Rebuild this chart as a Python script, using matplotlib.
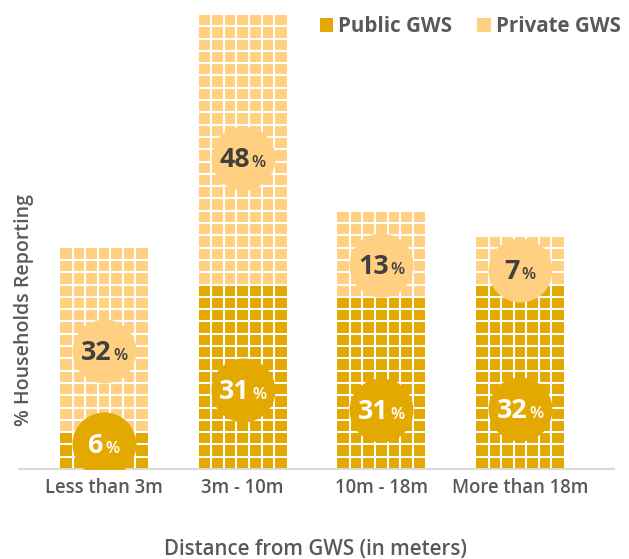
import matplotlib
matplotlib.use("Agg")
import matplotlib.pyplot as plt
from matplotlib.patches import Patch

# données
categories = ["Less than 3m", "3m - 10m", "10m - 18m", "More than 18m"]
public_height = [6.2, 32.0, 29.9, 32.0]
private_height = [32.2, 47.0, 14.8, 8.3]
public_label = [6, 31, 31, 32]
private_label = [32, 48, 13, 7]
# hauteur des pastilles (en %)
public_label_y = [4.4, 13.7, 10.2, 10.4]
private_label_y = [20.6, 54.1, 35.5, 34.6]

gold = "#E3A900"
light = "#FFD081"
grey = "#595959"
dark = "#404040"
FONT = "Open Sans"

DPI = 74
plt.rcParams["font.family"] = FONT

fig = plt.figure(figsize=(629 / DPI, 559 / DPI), dpi=DPI)
ax = fig.add_axes([19 / 629, 90 / 559, 595 / 629, 454 / 559])

x = list(range(len(categories)))
w = 0.635
ax.bar(x, public_height, w, color=gold, linewidth=0, zorder=2)
ax.bar(x, private_height, w, bottom=public_height, color=light, linewidth=0, zorder=2)

# quadrillage blanc sur les barres
step = 2.14
for i in x:
    top = public_height[i] + private_height[i]
    for k in range(1, 7):
        xv = i - w / 2 + k * w / 7
        ax.plot([xv, xv], [0, top], color="white", lw=2, zorder=2.5, solid_capstyle="butt")
    yh = step
    while yh < top - 0.3:
        ax.plot([i - w / 2, i + w / 2], [yh, yh], color="white", lw=2, zorder=2.5,
                solid_capstyle="butt")
        yh += step

ax.set_xlim(-0.613, 3.678)
ax.set_ylim(0, 79)

# pastilles
ax.scatter(x, public_label_y, s=3880, color=gold, zorder=3, linewidths=0)
ax.scatter(x, private_label_y, s=3880, color=light, zorder=3, linewidths=0)

renderer = fig.canvas.get_renderer()


def pastille(xi, yi, val, col):
    t1 = ax.annotate(str(val), (xi, yi), xytext=(0, 0), textcoords="offset pixels",
                     ha="left", va="baseline", fontsize=26, fontweight="bold",
                     color=col, zorder=4)
    t2 = ax.annotate("%", (xi, yi), xytext=(0, 0), textcoords="offset pixels",
                     ha="left", va="baseline", fontsize=16, fontweight="semibold",
                     color=col, zorder=4)
    w1 = t1.get_window_extent(renderer).width
    w2 = t2.get_window_extent(renderer).width
    tot = w1 + 2 + w2
    t1.set_position((-tot / 2, -9))
    t2.set_position((-tot / 2 + w1 + 2, -9))


for i in x:
    pastille(i, public_label_y[i], public_label[i], "white")
    pastille(i, private_label_y[i], private_label[i], dark)

for s in ["top", "left", "right"]:
    ax.spines[s].set_visible(False)
ax.spines["bottom"].set_color("#d9d9d9")
ax.spines["bottom"].set_linewidth(2)
ax.set_yticks([])
ax.set_xticks(x)
ax.set_xticklabels(categories, fontsize=18, fontweight="semibold", color=grey)
ax.tick_params(axis="x", length=0, pad=9)

fig.text(316 / 629, 1 - 549 / 559, "Distance from GWS (in meters)", ha="center", va="center",
         fontsize=20, fontweight="semibold", color=grey)
fig.text(24 / 629, 1 - 310 / 559, "% Households Reporting", ha="center", va="center",
         rotation=90, fontsize=19, fontweight="semibold", color=grey)

ax.legend(handles=[Patch(facecolor=gold, label="Public GWS"),
                   Patch(facecolor=light, label="Private GWS")],
          ncol=2, frameon=False, loc="center left",
          bbox_to_anchor=(320 / 629, 1 - 26.5 / 559), bbox_transform=fig.transFigure,
          handlelength=0.65, handleheight=0.65, handletextpad=0.25, columnspacing=1.2,
          borderpad=0, borderaxespad=0,
          prop=dict(family=FONT, weight="bold", size=20), labelcolor=grey)

fig.savefig("out.png", dpi=DPI)
